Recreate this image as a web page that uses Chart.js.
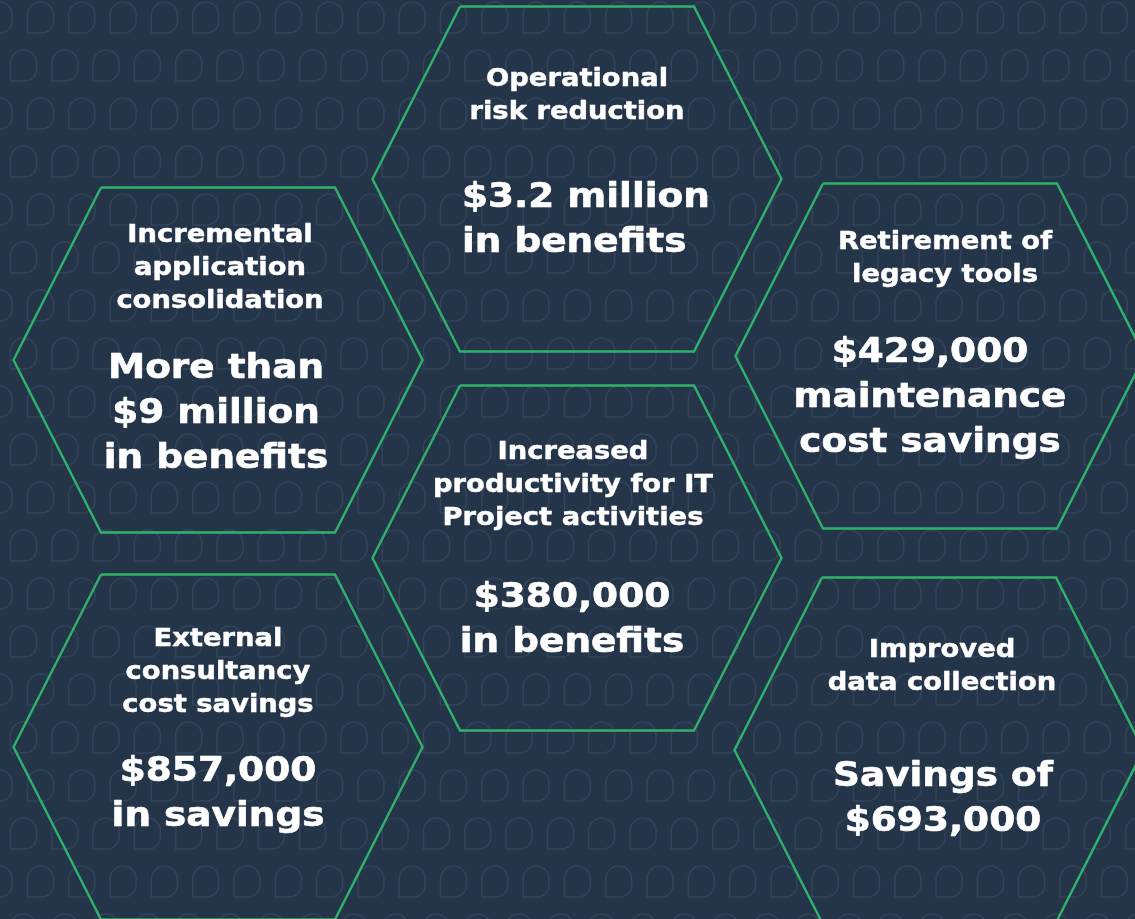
<!DOCTYPE html>
<html>
<head>
<meta charset="utf-8">
<style>
  html, body { margin: 0; padding: 0; background: #253549; }
  #wrap { width: 1135px; height: 919px; }
</style>
<script src="https://cdn.jsdelivr.net/npm/chart.js@4/dist/chart.umd.min.js"></script>
</head>
<body>
<div id="wrap"><canvas id="c" width="1135" height="919"></canvas></div>
<script>
// ---- data ----
const categories = [
  "Incremental application consolidation",
  "External consultancy cost savings",
  "Operational risk reduction",
  "Increased productivity for IT Project activities",
  "Retirement of legacy tools",
  "Improved data collection"
];
const titleLines = [
  ["Incremental", "application", "consolidation"],
  ["External", "consultancy", "cost savings"],
  ["Operational", "risk reduction"],
  ["Increased", "productivity for IT", "Project activities"],
  ["Retirement of", "legacy tools"],
  ["Improved", "data collection"]
];
const valueLines = [
  ["More than", "$9 million", "in benefits"],
  ["$857,000", "in savings"],
  ["$3.2 million", "in benefits"],
  ["$380,000", "in benefits"],
  ["$429,000", "maintenance", "cost savings"],
  ["Savings of", "$693,000"]
];
const amountsUSD = [9000000, 857000, 3200000, 380000, 429000, 693000];

// ---- layout (positions in canvas units) ----
const hexCX = [218, 218, 577, 577, 940, 939];
const hexCY = [360, 747, 179, 558, 356, 750];
const titleX = [220, 218, 577, 573, 945, 942];
const titleY = [235, 639, 79, 452, 242, 650];
const valueX = [216, 218, 462, 572, 930, 943];
const valueY = [369, 772, 198, 598, 353, 777];
const valueAlign = ["center", "center", "left", "center", "center", "center"];
const HW = 204.5, HH = 172.5, TW = 117;
const TITLE_LH = 33, VALUE_LH = 45;
const TITLE_SX = 1.095, VALUE_SX = 1.10;
const GREEN = "#2fb36c";

function hexPoints(cx, cy) {
  return [
    {x: cx - TW, y: cy - HH}, {x: cx + TW, y: cy - HH}, {x: cx + HW, y: cy},
    {x: cx + TW, y: cy + HH}, {x: cx - TW, y: cy + HH}, {x: cx - HW, y: cy},
    {x: cx - TW, y: cy - HH}
  ];
}

const datasets = categories.map((name, i) => ({
  label: name,
  data: hexPoints(hexCX[i], hexCY[i]),
  showLine: true,
  borderColor: GREEN,
  borderWidth: 2.4,
  pointRadius: 0,
  fill: false,
  tension: 0,
  borderJoinStyle: "miter"
}));

const bgPlugin = {
  id: "bgPattern",
  beforeDraw(chart) {
    const ctx = chart.ctx;
    ctx.save();
    ctx.fillStyle = "#253549";
    ctx.fillRect(0, 0, chart.width, chart.height);
    ctx.strokeStyle = "#33445a";
    ctx.lineWidth = 1.5;
    const px = 41.3, py = 48, w = 26, h = 31;
    for (let row = 0; row < 21; row++) {
      const off = (row % 2 === 0) ? 27.5 : 10.5;
      const top = 2 + row * py;
      for (let k = -1; k < 30; k++) {
        const x0 = off + k * px;
        ctx.beginPath();
        if (ctx.roundRect) {
          ctx.roundRect(x0, top, w, h, [13, 13, 12, 0]);
        } else {
          ctx.rect(x0, top, w, h);
        }
        ctx.stroke();
      }
    }
    ctx.restore();
  }
};

function stretchedText(ctx, t, x, y, sx, align) {
  ctx.save();
  ctx.translate(x, y);
  ctx.scale(sx, 1);
  ctx.textAlign = align;
  ctx.fillText(t, 0, 0);
  ctx.strokeText(t, 0, 0);
  ctx.restore();
}

const textPlugin = {
  id: "hexText",
  afterDatasetsDraw(chart) {
    const ctx = chart.ctx;
    const xs = chart.scales.x, ys = chart.scales.y;
    ctx.save();
    ctx.fillStyle = "#ffffff";
    ctx.strokeStyle = "#ffffff";
    ctx.lineJoin = "round";
    ctx.textBaseline = "middle";
    categories.forEach((c, i) => {
      ctx.font = 'bold 25px "DejaVu Sans", Verdana, sans-serif';
      ctx.lineWidth = 0.45;
      titleLines[i].forEach((t, j) => {
        stretchedText(ctx, t, xs.getPixelForValue(titleX[i]), ys.getPixelForValue(titleY[i] + j * TITLE_LH), TITLE_SX, "center");
      });
      ctx.font = 'bold 34px "DejaVu Sans", Verdana, sans-serif';
      ctx.lineWidth = 0.6;
      valueLines[i].forEach((t, j) => {
        stretchedText(ctx, t, xs.getPixelForValue(valueX[i]), ys.getPixelForValue(valueY[i] + j * VALUE_LH), VALUE_SX, valueAlign[i]);
      });
    });
    ctx.restore();
  }
};

new Chart(document.getElementById("c"), {
  type: "scatter",
  data: { datasets },
  options: {
    responsive: false,
    animation: false,
    layout: { padding: 0 },
    scales: {
      x: { type: "linear", min: 0, max: 1135, display: false },
      y: { type: "linear", min: 0, max: 919, reverse: true, display: false }
    },
    plugins: { legend: { display: false }, tooltip: { enabled: false } }
  },
  plugins: [bgPlugin, textPlugin]
});
</script>
</body>
</html>
